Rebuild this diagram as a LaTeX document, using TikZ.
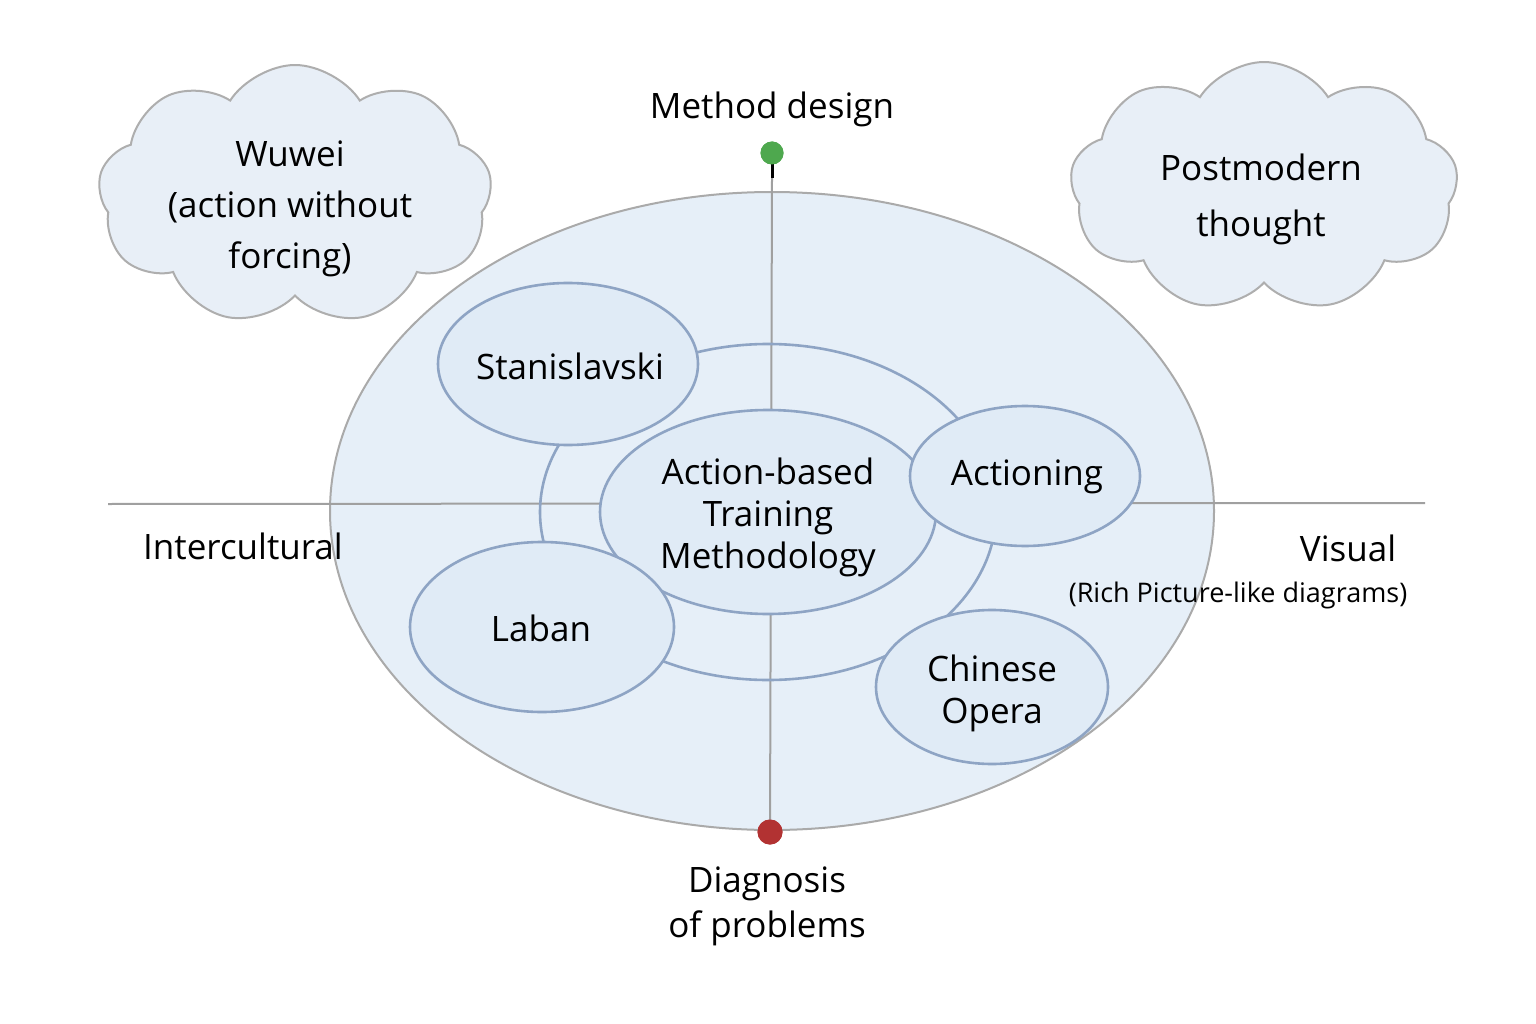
\documentclass[tikz,border=0pt]{standalone}
\usepackage{fontspec}
\setmainfont{Open Sans}
\usetikzlibrary{shapes.geometric,shapes.symbols}
\definecolor{bigfill}{HTML}{E6EFF8}
\definecolor{smallfill}{HTML}{E0EBF6}
\definecolor{blueline}{HTML}{8EA4C4}
\definecolor{grayline}{HTML}{A0A0A0}
\definecolor{cloudfill}{HTML}{E8EFF7}
\definecolor{pingreen}{HTML}{4EA84E}
\definecolor{pinred}{HTML}{B23232}
\tikzset{
  oval/.style={ellipse, draw=blueline, line width=2.6pt, fill=smallfill, inner sep=0pt},
  axis/.style={draw=grayline, line width=2pt},
  lbl/.style={font=\fontsize{35}{42}\selectfont, align=center, text=black, inner sep=0pt},
  cloudbox/.style={cloud, cloud puffs=9, cloud puff arc=115, cloud ignores aspect, draw=grayline!85, line width=2pt, fill=cloudfill, inner sep=0pt},
  pin/.style={circle, minimum size=23pt, inner sep=0pt, draw=none}
}
\begin{document}
\begin{tikzpicture}[x=1pt,y=-1pt]
\useasboundingbox (0,0) rectangle (1536,1024);
\fill[white] (0,0) rectangle (1536,1024);

% clouds
\node[cloudbox, minimum width=394pt, minimum height=260pt] (wuwei) at (295,195) {};
\node[lbl, font=\fontsize{35}{51}\selectfont] (wuweit) at (290,209) {Wuwei\\(action without\\forcing)};
\node[cloudbox, minimum width=388pt, minimum height=250pt] (postm) at (1264,187) {};
\node[lbl, font=\fontsize{35}{56}\selectfont] (postmt) at (1261,199) {Postmodern\\thought};

% big ellipse
\node[ellipse, draw=grayline!90, line width=2pt, fill=bigfill, minimum width=884pt, minimum height=638pt, inner sep=0pt] (big) at (772,511) {};

% axes
\coordinate (hl) at (108,504);
\coordinate (hr) at (1425,503);
\coordinate (vtop) at (772,178);
\node[pin, fill=pingreen] (green) at (772,153) {};
\node[pin, fill=pinred, minimum size=25pt] (red) at (770,832) {};
\draw[axis] (hl) -- (hr);
\draw[axis] (vtop) -- (red.center);
\draw[line width=3pt, black] (green.center) -- (vtop);

% ring
\node[ellipse, draw=blueline, line width=2.6pt, minimum width=456pt, minimum height=336pt, inner sep=0pt] (ring) at (768,512) {};

% center & satellites
\node[oval, minimum width=336pt, minimum height=204pt] (center) at (768,512) {};
\node[lbl] at (768,517) {Action-based\\Training\\Methodology};
\node[oval, minimum width=260pt, minimum height=162pt] (stan) at (568,364) {};
\node[lbl] at (570,366) {Stanislavski};
\node[oval, minimum width=230pt, minimum height=140pt] (act) at (1025,476) {};
\node[lbl] at (1027,477) {Actioning};
\node[oval, minimum width=264pt, minimum height=170pt] (laban) at (542,627) {};
\node[lbl] at (541,628) {Laban};
\node[oval, minimum width=232pt, minimum height=154pt] (opera) at (992,687) {};
\node[lbl] at (992,693) {Chinese\\Opera};

% redraw pins on top
\node[pin, fill=pingreen] at (green) {};
\node[pin, fill=pinred, minimum size=25pt] at (red) {};

% outer labels
\node[lbl] (md) at (772,109) {Method design};
\node[lbl] (ic) at (243,546) {Intercultural};
\node[lbl] (vis) at (1348,548) {Visual};
\node[lbl, font=\fontsize{27}{30}\selectfont] (rich) at (1238,595) {(Rich Picture-like diagrams)};
\node[lbl, font=\fontsize{35}{45}\selectfont] (diag) at (767,906) {Diagnosis\\of problems};
\end{tikzpicture}
\end{document}
